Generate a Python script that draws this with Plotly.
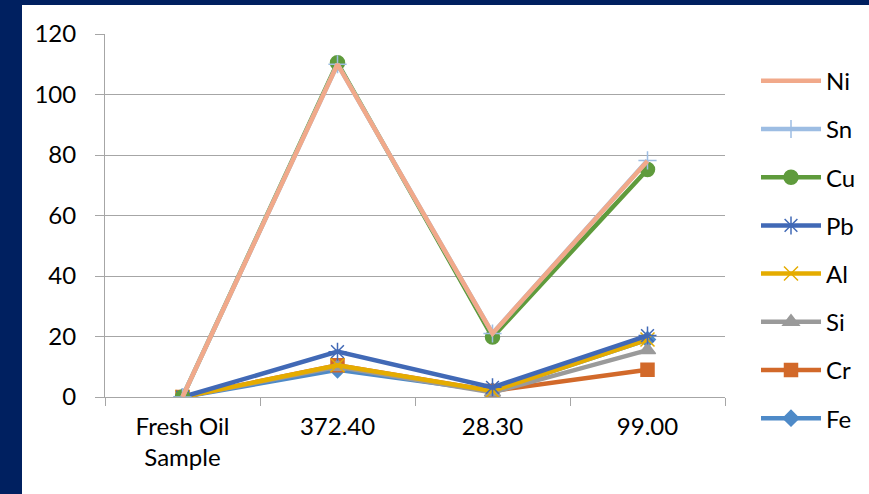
import plotly.graph_objects as go

categories = ["Fresh Oil<br>Sample", "372.40", "28.30", "99.00"]

# series values (ppm)
Fe = [0, 9, 2, 19]
Cr = [0, 10.5, 2, 9]
Si = [0, 10, 1.5, 15.5]
Al = [0, 10.5, 2, 19]
Pb = [0, 15, 3.2, 20.3]
Cu = [0, 110.5, 19.8, 75.2]
Sn = [0, 110, 21, 78.2]
Ni = [0, 110, 21, 78]

series = [
    ("Fe", Fe, "#4E8AC8", "diamond", 12),
    ("Cr", Cr, "#D2692A", "square", 13),
    ("Si", Si, "#9A9A9A", "triangle-up", 14),
    ("Al", Al, "#E5AC00", "x-thin-open", 14),
    ("Pb", Pb, "#4169B6", "asterisk-open", 15),
    ("Cu", Cu, "#5F9B3C", "circle", 14),
    ("Sn", Sn, "#9DBDE3", "cross-thin-open", 13),
    ("Ni", Ni, "#F1A98A", "circle", 1),
]

W, H = 869, 494
L, R, T, B = 105, 144, 34, 97

fig = go.Figure()
n = len(series)
for i, (name, vals, col, sym, sz) in enumerate(series):
    marker = dict(symbol=sym, size=sz, color=col, line=dict(color=col, width=1.5))
    mode = "lines+markers" if name != "Ni" else "lines"
    fig.add_trace(go.Scatter(
        x=categories, y=vals, name=name, mode=mode,
        line=dict(color=col, width=4.5),
        marker=marker, legendgroup=name, legendrank=(n - i) * 10,
    ))

gray = "#A6A6A6"
pw = W - L - R
ph = H - T - B
fig.add_shape(type="rect", xref="paper", yref="paper",
              x0=(22 - L) / pw, x1=(W + 5 - L) / pw,
              y0=-(B + 5) / ph,
              y1=((H - B) - 5) / ph,
              fillcolor="white", line=dict(width=0), layer="below")

fig.update_layout(
    width=W, height=H,
    margin=dict(l=L, r=R, t=T, b=B, autoexpand=False),
    paper_bgcolor="#002060",
    plot_bgcolor="rgba(0,0,0,0)",
    font=dict(family="Lato", size=24, color="black"),
    showlegend=True,
    legend=dict(x=1.05, y=0.932, xanchor="left", yanchor="top",
                traceorder="grouped", tracegroupgap=14, maxheight=480,
                font=dict(size=24), bgcolor="rgba(0,0,0,0)",
                itemwidth=60),
    xaxis=dict(type="category", range=[-0.5, 3.5], showgrid=False,
               showline=True, linecolor=gray, linewidth=1,
               ticks="outside", tickson="boundaries", ticklen=8,
               tickcolor=gray, tickwidth=1, ticklabelstandoff=8),
    yaxis=dict(range=[0, 120], dtick=20, showgrid=True, gridcolor=gray,
               gridwidth=1, showline=True, linecolor=gray, linewidth=1,
               ticks="outside", ticklen=9, tickcolor=gray, tickwidth=1,
               zeroline=False, ticklabelstandoff=14),
)

fig.write_html("out.html")
